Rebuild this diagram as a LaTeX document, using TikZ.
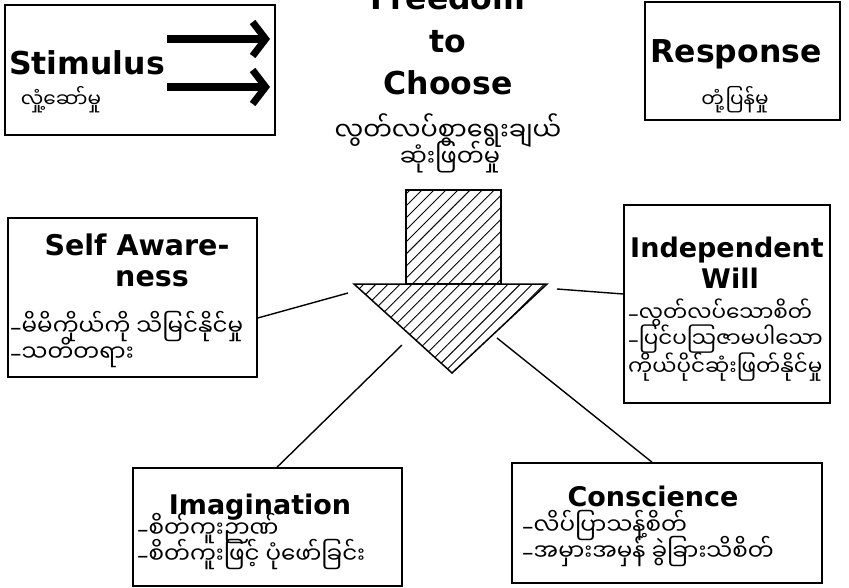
\documentclass[tikz,border=0pt]{standalone}
\usepackage{fontspec}
\setmainfont{DejaVu Sans}
\newfontfamily\mmfont[Script=Myanmar]{Noto Sans Myanmar UI}
\usetikzlibrary{fit,arrows.meta,patterns.meta}
\newcommand{\mmdash}{{\normalfont\mdseries –}}
\begin{document}
\begin{tikzpicture}[x=1pt,y=-1pt,
  box/.style={draw, line width=1.6pt, inner sep=0pt},
  topword/.style={font=\bfseries\fontsize{31.5}{36}\selectfont, anchor=base, inner sep=0pt},
  word/.style={font=\bfseries\fontsize{27}{32}\selectfont, anchor=base, inner sep=0pt},
  mm/.style={font=\mmfont\fontsize{22}{26}\selectfont, anchor=base, inner sep=0pt},
  mmleft/.style={mm, font=\mmfont\fontsize{23}{26}\selectfont, anchor=base west},
  link/.style={line width=1.4pt},
  hatch/.style={draw, line width=1.5pt, line join=miter,
    pattern={Lines[angle=45, distance=8.5pt, line width=0.9pt]}},
  bigarrow/.style={line width=7.5pt, -{Straight Barb[length=13pt, width=34pt, line width=7pt]}}
]
\fill[white] (0,0) rectangle (849,588);
\useasboundingbox (0,0) rectangle (849,588);

% Stimulus
\node[box, fit={(5,5) (275,135)}] (stim) {};
\node[topword] (stimT) at (87,75) {Stimulus};
\node[mm, font=\mmfont\fontsize{20}{26}\selectfont] (stimM) at (61,108) {လှုံ့ဆော်မှု};
\coordinate (a1s) at (167,39);
\coordinate (a1e) at (270,39);
\coordinate (a2s) at (167,87);
\coordinate (a2e) at (270,87);
\draw[bigarrow] (a1s) -- (a1e);
\draw[bigarrow] (a2s) -- (a2e);

% Response
\node[box, fit={(645,2) (840,120)}] (resp) {};
\node[topword] (respT) at (736,63) {Response};
\node[mm, font=\mmfont\fontsize{20}{26}\selectfont] (respM) at (735,108) {တုံ့ပြန်မှု};

% Freedom to Choose
\node[topword] (fr1) at (448,10) {Freedom};
\node[topword] (fr2) at (448,53) {to};
\node[topword] (fr3) at (448,95) {Choose};
\node[mm, font=\mmfont\fontsize{25.5}{30}\selectfont] (frM1) at (448,141) {လွတ်လပ်စွာရွေးချယ်};
\node[mm, font=\mmfont\fontsize{24}{30}\selectfont] (frM2) at (450,167) {ဆုံးဖြတ်မှု};

% central arrow
\draw[hatch] (406,190) rectangle (501,284);
\draw[hatch] (354,284) -- (547,284) -- (452,373) -- cycle;
\coordinate (hubSA) at (348,293);
\coordinate (hubIW) at (557,289);
\coordinate (hubIM) at (402,345);
\coordinate (hubCO) at (497,338);

% Self Awareness
\node[box, fit={(8,218) (257,377)}] (sa) {};
\node[word, font=\bfseries\fontsize{28.5}{32}\selectfont] (saT1) at (137,255) {Self Aware-};
\node[word, font=\bfseries\fontsize{28.5}{32}\selectfont] (saT2) at (152,287) {ness};
\node[mmleft] (saM1) at (10,335) {\mmdash မိမိကိုယ်ကို သိမြင်နိုင်မှု};
\node[mmleft] (saM2) at (10,361) {\mmdash သတိတရား};

% Independent Will
\node[box, fit={(624,205) (830,403)}] (iw) {};
\node[word] (iwT1) at (727,258) {Independent};
\node[word] (iwT2) at (730,288) {Will};
\node[mmleft, font=\mmfont\fontsize{21.5}{26}\selectfont] (iwM1) at (628,321) {\mmdash လွတ်လပ်သောစိတ်};
\node[mmleft, font=\mmfont\fontsize{21.5}{26}\selectfont] (iwM2) at (628,347) {\mmdash ပြင်ပသြဇာမပါသော};
\node[mmleft, font=\mmfont\fontsize{21.5}{26}\selectfont] (iwM3) at (628,375) {ကိုယ်ပိုင်ဆုံးဖြတ်နိုင်မှု};

% Imagination
\node[box, fit={(133,468) (402,586)}] (im) {};
\node[word] (imT) at (260,514) {Imagination};
\node[mmleft] (imM1) at (137,537) {\mmdash စိတ်ကူးဉာဏ်};
\node[mmleft] (imM2) at (137,563) {\mmdash စိတ်ကူးဖြင့် ပုံဖော်ခြင်း};

% Conscience
\node[box, fit={(512,463) (822,583)}] (co) {};
\node[word] (coT) at (653,506) {Conscience};
\node[mmleft] (coM1) at (522,534) {\mmdash လိပ်ပြာသန့်စိတ်};
\node[mmleft] (coM2) at (522,560) {\mmdash အမှားအမှန် ခွဲခြားသိစိတ်};

% connectors
\draw[link] (sa.east |- 0,318) -- (hubSA);
\draw[link] (iw.west |- 0,294) -- (hubIW);
\draw[link] (im.north -| 277,0) -- (hubIM);
\draw[link] (co.north -| 652,0) -- (hubCO);
\end{tikzpicture}
\end{document}
